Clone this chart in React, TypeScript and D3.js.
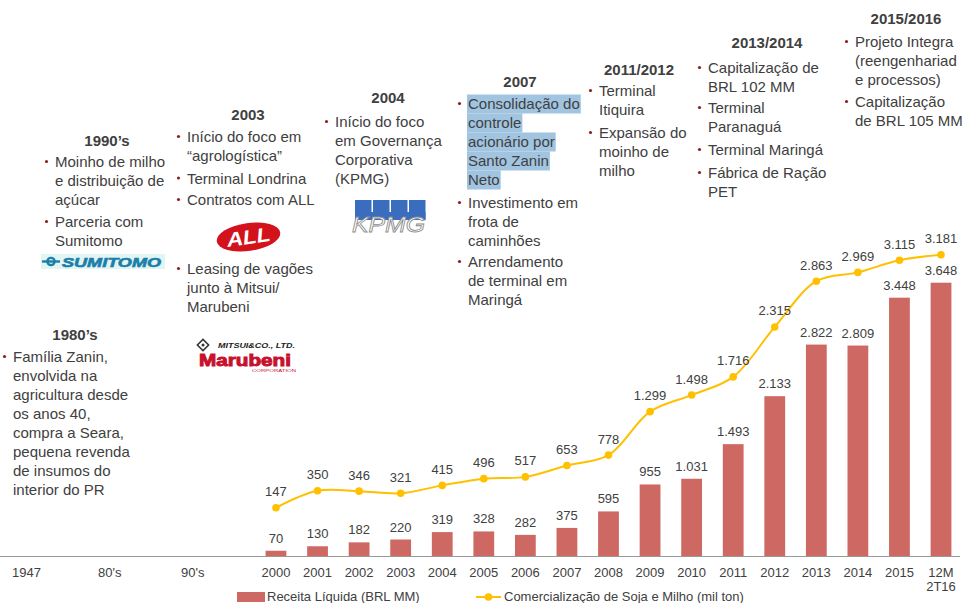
import React, { useEffect, useRef } from "react";
import * as d3 from "d3";

const W = 967;
const H = 603;

// ---------- data ----------
const periodLabels = ["1947", "80's", "90's"];
const years = [
  "2000", "2001", "2002", "2003", "2004", "2005", "2006", "2007", "2008",
  "2009", "2010", "2011", "2012", "2013", "2014", "2015", "12M 2T16",
];
const revenue = [70, 130, 182, 220, 319, 328, 282, 375, 595, 955, 1031, 1493, 2133, 2822, 2809, 3448, 3648];
const volume = [147, 350, 346, 321, 415, 496, 517, 653, 778, 1299, 1498, 1716, 2315, 2863, 2969, 3115, 3181];
const legendLabels = ["Receita Líquida (BRL MM)", "Comercialização de Soja e Milho (mil ton)"];

const noteTitles = ["1980’s", "1990’s", "2003", "2004", "2007", "2011/2012", "2013/2014", "2015/2016"];
const noteItems: string[][][] = [
  [["Família Zanin,", "envolvida na", "agricultura desde", "os anos 40,", "compra a Seara,", "pequena revenda", "de insumos do", "interior do PR"]],
  [["Moinho de milho", "e distribuição de", "açúcar"], ["Parceria com", "Sumitomo"]],
  [["Início do foco em", "“agrologística”"], ["Terminal Londrina"], ["Contratos com ALL"], ["Leasing de vagões", "junto à Mitsui/", "Marubeni"]],
  [["Início do foco", "em Governança", "Corporativa", "(KPMG)"]],
  [["Consolidação do", "controle", "acionário por", "Santo Zanin", "Neto"], ["Investimento em", "frota de", "caminhões"], ["Arrendamento", "de terminal em", "Maringá"]],
  [["Terminal", "Itiquira"], ["Expansão do", "moinho de", "milho"]],
  [["Capitalização de", "BRL 102 MM"], ["Terminal", "Paranaguá"], ["Terminal Maringá"], ["Fábrica de Ração", "PET"]],
  [["Projeto Integra", "(reengenhariad", "e processos)"], ["Capitalização", "de BRL 105 MM"]],
];

// ---------- layout ----------
const noteLayout = [
  { cx: 75, hy: 340, tx: 13, ys: [362] },
  { cx: 107, hy: 146, tx: 55, ys: [167, 227] },
  { cx: 248, hy: 119.5, tx: 187, ys: [142, 183.5, 205, 274] },
  { cx: 388, hy: 103, tx: 335, ys: [127] },
  { cx: 520, hy: 87, tx: 468, ys: [109, 208, 267] },
  { cx: 639, hy: 75, tx: 599, ys: [96, 138] },
  { cx: 767, hy: 48, tx: 708, ys: [73, 113, 155, 178] },
  { cx: 906, hy: 23.5, tx: 855, ys: [47, 107] },
];

const FONT = "'Liberation Sans', Arial, Helvetica, sans-serif";
const TEXT = "#404040";
const BAR = "#CD6863";
const LINE = "#FFC000";
const BULLET = "#8E1F1F";

export default function App() {
  const ref = useRef<SVGSVGElement>(null);

  useEffect(() => {
    const svg = d3.select(ref.current);
    svg.selectAll("*").remove();

    const slots = ["1947", "_a", "80's", "_b", "90's", "_c", ...years];
    const x = d3.scaleBand<string>().domain(slots).range([5.8, 961.8]).paddingInner(0.5).paddingOuter(0.25);
    const yBar = d3.scaleLinear().domain([0, 3648]).range([556, 282.7]);
    const yLine = d3.scaleLinear().domain([0, 3181]).range([520, 254.7]);
    const fmt = d3.formatLocale({ decimal: ",", thousands: ".", grouping: [3], currency: ["R$", ""] }).format(",d");

    const g = svg.append("g");

    // bars
    g.selectAll("rect.bar")
      .data(revenue)
      .join("rect")
      .attr("class", "bar")
      .attr("x", (_, i) => x(years[i])!)
      .attr("width", x.bandwidth())
      .attr("y", (d) => yBar(d))
      .attr("height", (d) => yBar(0) - yBar(d))
      .attr("fill", BAR);

    g.selectAll("text.barlbl")
      .data(revenue)
      .join("text")
      .attr("class", "barlbl")
      .attr("x", (_, i) => x(years[i])! + x.bandwidth() / 2)
      .attr("y", (d) => yBar(d) - 8)
      .attr("text-anchor", "middle")
      .attr("font-family", FONT)
      .attr("font-size", 13)
      .attr("fill", TEXT)
      .text((d) => fmt(d));

    // axis line
    g.append("line")
      .attr("x1", 0).attr("x2", 960)
      .attr("y1", 556.5).attr("y2", 556.5)
      .attr("stroke", "#9A9A9A").attr("stroke-width", 1.2);

    // line series
    const cx = (i: number) => x(years[i])! + x.bandwidth() / 2;
    const lineGen = d3.line<number>()
      .x((_, i) => cx(i))
      .y((d) => yLine(d))
      .curve(d3.curveCatmullRom.alpha(0.5));
    g.append("path")
      .attr("d", lineGen(volume)!)
      .attr("fill", "none")
      .attr("stroke", LINE)
      .attr("stroke-width", 2);
    g.selectAll("circle.pt")
      .data(volume)
      .join("circle")
      .attr("class", "pt")
      .attr("cx", (_, i) => cx(i))
      .attr("cy", (d) => yLine(d))
      .attr("r", 3.8)
      .attr("fill", LINE);
    g.selectAll("text.ptlbl")
      .data(volume)
      .join("text")
      .attr("class", "ptlbl")
      .attr("x", (_, i) => cx(i))
      .attr("y", (d) => yLine(d) - 11.5)
      .attr("text-anchor", "middle")
      .attr("font-family", FONT)
      .attr("font-size", 13)
      .attr("fill", TEXT)
      .text((d) => fmt(d));

    // x tick labels
    const ticks = [...periodLabels, ...years];
    ticks.forEach((t) => {
      const parts = t.split(" ");
      const tx = g.append("text")
        .attr("x", x(t)! + x.bandwidth() / 2)
        .attr("y", 577)
        .attr("text-anchor", "middle")
        .attr("font-family", FONT)
        .attr("font-size", 13)
        .attr("fill", TEXT);
      parts.forEach((p, k) => {
        tx.append("tspan").attr("x", x(t)! + x.bandwidth() / 2).attr("dy", k === 0 ? 0 : 14).text(p);
      });
    });

    // legend
    g.append("rect").attr("x", 237).attr("y", 592).attr("width", 28).attr("height", 10).attr("fill", BAR);
    g.append("text").attr("x", 267).attr("y", 601).attr("font-family", FONT).attr("font-size", 13)
      .attr("fill", TEXT).text(legendLabels[0]);
    g.append("line").attr("x1", 476).attr("x2", 501).attr("y1", 597).attr("y2", 597)
      .attr("stroke", LINE).attr("stroke-width", 2);
    g.append("circle").attr("cx", 488.5).attr("cy", 597).attr("r", 3.8).attr("fill", LINE);
    g.append("text").attr("x", 504).attr("y", 601).attr("font-family", FONT).attr("font-size", 13)
      .attr("fill", TEXT).text(legendLabels[1]);

    // annotations
    const LH = 19;
    noteTitles.forEach((title, bi) => {
      const L = noteLayout[bi];
      g.append("text")
        .attr("x", L.cx).attr("y", L.hy)
        .attr("text-anchor", "middle")
        .attr("font-family", FONT).attr("font-size", 15).attr("font-weight", "bold")
        .attr("fill", TEXT).text(title);
      noteItems[bi].forEach((item, ii) => {
        const y0 = L.ys[ii];
        g.append("circle").attr("cx", L.tx - 8.5).attr("cy", y0 - 5.5).attr("r", 1.6).attr("fill", BULLET);
        item.forEach((ln, li) => {
          const highlight = bi === 4 && ii === 0;
          const hg = highlight ? g.append("rect") : null;
          const t = g.append("text")
            .attr("x", L.tx).attr("y", y0 + li * LH)
            .attr("font-family", FONT).attr("font-size", 15)
            .attr("fill", TEXT).text(ln);
          if (hg) {
            const w = (t.node() as SVGTextElement).getComputedTextLength();
            hg.attr("x", L.tx - 1).attr("y", y0 + li * LH - 14.5)
              .attr("width", w + 2).attr("height", LH)
              .attr("fill", "#A1C4E0");
          }
        });
      });
    });

    // ---- logos ----
    // Sumitomo
    const su = g.append("g");
    su.append("rect").attr("x", 41).attr("y", 254).attr("width", 124).attr("height", 15).attr("fill", "#E2F5F5");
    su.append("circle").attr("cx", 51).attr("cy", 261.5).attr("r", 3.6).attr("fill", "none").attr("stroke", "#1B7FAA").attr("stroke-width", 2.4);
    su.append("rect").attr("x", 42).attr("y", 260.3).attr("width", 18).attr("height", 2.4).attr("fill", "#1B7FAA");
    su.append("text").attr("x", 62).attr("y", 266.5).attr("font-family", FONT).attr("font-size", 13)
      .attr("font-weight", "bold").attr("font-style", "italic").attr("fill", "#1B7FAA")
      .attr("stroke", "#1B7FAA").attr("stroke-width", 0.6)
      .attr("textLength", 99).attr("lengthAdjust", "spacingAndGlyphs").text("SUMITOMO");

    // ALL
    const al = g.append("g").attr("transform", "translate(248.5,237) rotate(-8)");
    al.append("ellipse").attr("rx", 32).attr("ry", 14).attr("fill", "#D3121C");
    al.append("text").attr("x", 0).attr("y", 7).attr("text-anchor", "middle").attr("font-family", FONT)
      .attr("font-size", 20).attr("font-weight", "bold").attr("font-style", "italic").attr("fill", "#fff")
      .attr("textLength", 44).attr("lengthAdjust", "spacingAndGlyphs").text("ALL");

    // Mitsui / Marubeni
    const mm = g.append("g");
    mm.append("rect").attr("x", 199).attr("y", 341).attr("width", 8).attr("height", 8)
      .attr("transform", "rotate(45,203,345)").attr("fill", "none").attr("stroke", "#333").attr("stroke-width", 1.5);
    mm.append("circle").attr("cx", 203).attr("cy", 345).attr("r", 1.5).attr("fill", "#333");
    mm.append("text").attr("x", 218).attr("y", 348).attr("font-family", FONT).attr("font-size", 7)
      .attr("font-weight", "bold").attr("font-style", "italic").attr("fill", "#222")
      .attr("textLength", 77).attr("lengthAdjust", "spacingAndGlyphs").text("MITSUI&CO., LTD.");
    mm.append("text").attr("x", 199).attr("y", 366).attr("font-family", FONT).attr("font-size", 16)
      .attr("font-weight", "bold").attr("fill", "#C8102E").attr("stroke", "#C8102E").attr("stroke-width", 0.9)
      .attr("textLength", 92).attr("lengthAdjust", "spacingAndGlyphs").text("Marubeni");
    mm.append("text").attr("x", 252).attr("y", 371.5).attr("font-family", FONT).attr("font-size", 4)
      .attr("fill", "#C8102E").attr("textLength", 44).attr("lengthAdjust", "spacingAndGlyphs").text("CORPORATION");

    // KPMG
    const kp = g.append("g");
    [0, 1, 2, 3].forEach((k) => {
      kp.append("rect").attr("x", 355 + k * 18).attr("y", 200).attr("width", 16.5).attr("height", 19.5).attr("fill", "#3A6DBE");
    });
    kp.append("rect").attr("x", 355).attr("y", 212).attr("width", 70.5).attr("height", 8).attr("fill", "#3A6DBE");
    kp.append("text").attr("x", 352).attr("y", 232).attr("font-family", FONT).attr("font-size", 22)
      .attr("font-style", "italic").attr("fill", "#fff").attr("stroke", "#8A8A8A").attr("stroke-width", 0.8)
      .attr("textLength", 73).attr("lengthAdjust", "spacingAndGlyphs").text("KPMG");
  }, []);

  return (
    <div style={{ position: "absolute", left: 0, top: 0, width: W, height: H, background: "#fff" }}>
      <svg ref={ref} width={W} height={H} style={{ display: "block" }} />
    </div>
  );
}
